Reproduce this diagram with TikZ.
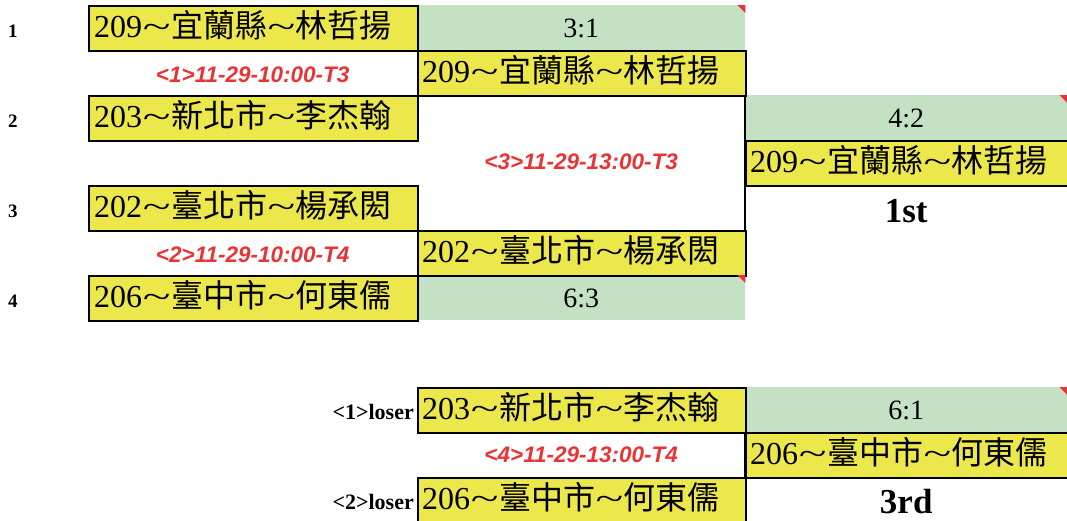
\documentclass[tikz,border=0pt]{standalone}
\usepackage{fontspec}
\usepackage{graphicx}
\setmainfont{Liberation Serif}
\newfontfamily\cjkfont{Noto Sans CJK TC}
\newfontfamily\labfont{Liberation Sans}
\definecolor{cy}{RGB}{236,232,76}
\definecolor{cg}{RGB}{196,225,196}
\definecolor{cr}{RGB}{232,52,52}
\newcommand{\tld}{\makebox[0.9em][c]{\scalebox{1.6}[1]{\textasciitilde}}}
\newcommand{\pname}[3]{#1\tld{\cjkfont #2}\tld{\cjkfont #3}}
\begin{document}
\begin{tikzpicture}[x=1pt,y=-1pt,
  ycell/.style={fill=cy, draw=black, line width=2pt, inner sep=0pt, anchor=north west},
  gcell/.style={fill=cg, inner sep=0pt, anchor=north west},
  wcell/.style={inner sep=0pt, anchor=north west},
  bw/.style={minimum width=329pt}, cw/.style={minimum width=328pt}, dw/.style={minimum width=322pt},
  rh/.style={minimum height=45pt},
  nmtext/.style={font=\fontsize{32}{36}\selectfont, inner sep=0pt, anchor=base west},
  sctext/.style={font=\fontsize{28}{32}\selectfont, inner sep=0pt, anchor=base},
  rdtext/.style={font=\labfont\bfseries\itshape\fontsize{22.5}{26}\selectfont, text=cr, inner sep=0pt, anchor=base},
  numtext/.style={font=\bfseries\fontsize{19}{22}\selectfont, inner sep=0pt, anchor=base},
  losetext/.style={font=\bfseries\fontsize{22}{26}\selectfont, inner sep=0pt, anchor=base east},
  placetext/.style={font=\bfseries\fontsize{35}{40}\selectfont, inner sep=0pt, anchor=base},
  bline/.style={draw=black, line width=2pt},
  tri/.style={fill=cr}
]
\useasboundingbox (0,0) rectangle (1067,520);
% green score cells
\node[gcell, cw, rh] (c1) at (417,5) {};
\node[gcell, cw, rh] (c7) at (417,275) {};
\node[gcell, dw, rh] (d3) at (745,95) {};
\node[gcell, dw, rh] (d9) at (745,387) {};
% white cells
\node[wcell, bw, rh] (b2) at (88,50) {};
\node[wcell, bw, rh] (b6) at (88,230) {};
\node[wcell, cw, minimum height=135pt] (c345) at (417,95) {};
\node[wcell, dw, rh] (d5) at (745,185) {};
\node[wcell, cw, rh] (c10) at (417,432) {};
\node[wcell, dw, minimum height=43pt] (d11) at (745,477) {};
% yellow name cells
\node[ycell, bw, rh] (b1) at (88,5) {};
\node[ycell, bw, rh] (b3) at (88,95) {};
\node[ycell, bw, rh] (b5) at (88,185) {};
\node[ycell, bw, rh] (b7) at (88,275) {};
\node[ycell, cw, rh] (c2) at (417,50) {};
\node[ycell, cw, rh] (c6) at (417,230) {};
\node[ycell, dw, rh] (d4) at (745,140) {};
\node[ycell, cw, rh] (c9) at (417,387) {};
\node[ycell, dw, rh] (d10) at (745,432) {};
\node[ycell, cw, rh] (c11) at (417,477) {};
% bracket lines
\draw[bline] (c345.north east) -- (c345.south east);
\draw[bline] (c10.north east) -- (c10.south east);
% red corner marks
\foreach \c in {c1,c7,d3,d9}{
  \fill[tri] (\c.north east) -- ([xshift=-8pt]\c.north east) -- ([yshift=-8pt]\c.north east) -- cycle;
}
% row numbers
\node[numtext] (n1) at (13,37) {1};
\node[numtext] (n2) at (13,127) {2};
\node[numtext] (n3) at (13,217) {3};
\node[numtext] (n4) at (13,307) {4};
% names
\node[nmtext] (tb1) at ([xshift=6pt,yshift=-32pt]b1.north west) {\pname{209}{宜蘭縣}{林哲揚}};
\node[nmtext] (tb3) at ([xshift=6pt,yshift=-32pt]b3.north west) {\pname{203}{新北市}{李杰翰}};
\node[nmtext] (tb5) at ([xshift=6pt,yshift=-32pt]b5.north west) {\pname{202}{臺北市}{楊承閎}};
\node[nmtext] (tb7) at ([xshift=6pt,yshift=-32pt]b7.north west) {\pname{206}{臺中市}{何東儒}};
\node[nmtext] (tc2) at ([xshift=5pt,yshift=-32pt]c2.north west) {\pname{209}{宜蘭縣}{林哲揚}};
\node[nmtext] (tc6) at ([xshift=5pt,yshift=-32pt]c6.north west) {\pname{202}{臺北市}{楊承閎}};
\node[nmtext] (td4) at ([xshift=5pt,yshift=-32pt]d4.north west) {\pname{209}{宜蘭縣}{林哲揚}};
\node[nmtext] (tc9) at ([xshift=5pt,yshift=-32pt]c9.north west) {\pname{203}{新北市}{李杰翰}};
\node[nmtext] (td10) at ([xshift=5pt,yshift=-32pt]d10.north west) {\pname{206}{臺中市}{何東儒}};
\node[nmtext] (tc11) at ([xshift=5pt,yshift=-32pt]c11.north west) {\pname{206}{臺中市}{何東儒}};
% scores
\node[sctext] (s1) at ([yshift=-32pt]c1.north) {3:1};
\node[sctext] (s7) at ([yshift=-32pt]c7.north) {6:3};
\node[sctext] (s3) at ([yshift=-32pt]d3.north) {4:2};
\node[sctext] (s9) at ([yshift=-32pt]d9.north) {6:1};
% match labels
\node[rdtext] (m1) at ([yshift=-32pt]b2.north) {<1>11-29-10:00-T3};
\node[rdtext] (m2) at ([yshift=-32pt]b6.north) {<2>11-29-10:00-T4};
\node[rdtext] (m3) at ([yshift=-7pt]c345.center) {<3>11-29-13:00-T3};
\node[rdtext] (m4) at ([yshift=-30pt]c10.north) {<4>11-29-13:00-T4};
% places
\node[placetext] (p1) at ([yshift=-37pt]d5.north) {1st};
\node[placetext] (p3) at ([yshift=-36pt]d11.north) {3rd};
% loser labels
\node[losetext] (l1) at ([xshift=-3pt,yshift=-32pt]c9.north west) {<1>loser};
\node[losetext] (l2) at ([xshift=-3pt,yshift=-32pt]c11.north west) {<2>loser};
\end{tikzpicture}
\end{document}
